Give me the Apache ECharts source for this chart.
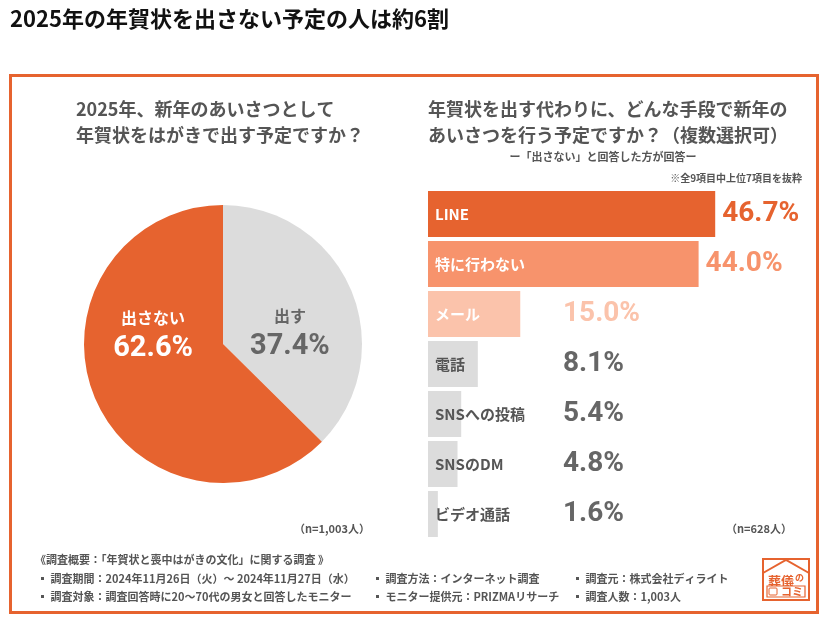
<!DOCTYPE html>
<html><head><meta charset="utf-8">
<script src="https://cdn.jsdelivr.net/npm/echarts@6/dist/echarts.min.js"></script>
<style>html,body{margin:0;padding:0;background:#fff;}#c{width:830px;height:621px;}</style>
</head><body><div id="c"></div>
<script>
const mainTitle = '2025年の年賀状を出さない予定の人は約6割';
const pieTitle = ['2025年、新年のあいさつとして', '年賀状をはがきで出す予定ですか？'];
const pieNames = ['出す', '出さない'];
const pieValues = [37.4, 62.6];
const pieN = '（n=1,003人）';
const barTitle = ['年賀状を出す代わりに、どんな手段で新年の', 'あいさつを行う予定ですか？（複数選択可）'];
const barSub = 'ー「出さない」と回答した方が回答ー';
const barNote = '※全9項目中上位7項目を抜粋';
const barCats = ['LINE', '特に行わない', 'メール', '電話', 'SNSへの投稿', 'SNSのDM', 'ビデオ通話'];
const barValues = [46.7, 44.0, 15.0, 8.1, 5.4, 4.8, 1.6];
const barN = '（n=628人）';
const notes = [
  ['《調査概要：「年賀状と喪中はがきの文化」に関する調査 》'],
  ['▪ 調査期間：2024年11月26日（火）～ 2024年11月27日（水）', '▪ 調査方法：インターネット調査', '▪ 調査元：株式会社ディライト'],
  ['▪ 調査対象：調査回答時に20～70代の男女と回答したモニター', '▪ モニター提供元：PRIZMAリサーチ', '▪ 調査人数：1,003人']
];

const ORANGE = '#E6632F', ORANGE2 = '#F7936C', ORANGE3 = '#FBC3AB', GRAY = '#DCDCDC', TXT = '#555555', VAL = '#666666';
const barColors = [ORANGE, ORANGE2, ORANGE3, GRAY, GRAY, GRAY, GRAY];
const nameColors = ['#fff', '#fff', '#fff', TXT, TXT, TXT, TXT];
const valColors = [ORANGE, ORANGE2, ORANGE3, VAL, VAL, VAL, VAL];
const JP = "'Noto Sans CJK JP', 'Noto Sans', sans-serif";
const NUM = "Roboto, 'Liberation Sans', sans-serif";

const chart = echarts.init(document.getElementById('c'), null, {renderer: 'canvas'});

const graphics = [
  {type: 'rect', shape: {x: 10.5, y: 75.5, width: 807, height: 537}, style: {fill: 'none', stroke: ORANGE, lineWidth: 3}, z: 0},
  {type: 'text', left: 10, top: 8, style: {text: mainTitle, font: "bold 22px " + JP, fill: '#111'}},
  {type: 'text', left: 76, top: 96, style: {text: pieTitle.join('\n'), font: "bold 18px " + JP, fill: TXT, lineHeight: 26}},
  {type: 'text', left: 428, top: 96, style: {text: barTitle.join('\n'), font: "bold 18px " + JP, fill: TXT, lineHeight: 26}},
  {type: 'text', x: 603, y: 157, style: {text: barSub, font: "bold 11px " + JP, fill: TXT, align: 'center', verticalAlign: 'middle'}},
  {type: 'text', x: 802, y: 178, style: {text: barNote, font: "bold 10px " + JP, fill: TXT, align: 'right', verticalAlign: 'middle'}},
  {type: 'text', x: 370, y: 529, style: {text: pieN, font: "bold 11px " + JP, fill: TXT, align: 'right', verticalAlign: 'middle'}},
  {type: 'text', x: 792, y: 529, style: {text: barN, font: "bold 11px " + JP, fill: TXT, align: 'right', verticalAlign: 'middle'}}
];
const noteX = [35, 370, 570];
const noteY = [560, 579, 597];
notes.forEach((row, r) => row.forEach((t, c) => {
  graphics.push({type: 'text', x: noteX[c] + (r === 0 ? 0 : 2), y: noteY[r], style: {text: t, font: "bold 11px " + JP, fill: TXT, verticalAlign: 'middle'}});
}));
// logo
graphics.push({
  type: 'group', x: 763, y: 559, children: [
    {type: 'rect', shape: {x: 0, y: 0, width: 46, height: 41}, style: {stroke: ORANGE, fill: '#fff', lineWidth: 2}},
    {type: 'polyline', shape: {points: [[0, 14], [23, 1], [46, 14]]}, style: {stroke: ORANGE, fill: 'none', lineWidth: 2}},
    {type: 'text', x: 5, y: 22, style: {text: '葬儀', font: "bold 13px " + JP, fill: ORANGE, verticalAlign: 'middle'}},
    {type: 'text', x: 32, y: 19, style: {text: 'の', font: "bold 9px " + JP, fill: ORANGE, verticalAlign: 'middle'}},
    {type: 'rect', shape: {x: 4, y: 27, width: 38, height: 11}, style: {stroke: ORANGE, fill: '#fff', lineWidth: 1.2}},
    {type: 'rect', shape: {x: 6, y: 29, width: 8, height: 7, r: 1}, style: {stroke: ORANGE, fill: '#fff', lineWidth: 1}},
    {type: 'text', x: 29, y: 32.5, style: {text: 'コミ', font: "bold 11px " + JP, fill: ORANGE, align: 'center', verticalAlign: 'middle'}}
  ]
});

const pieData = pieNames.map((n, i) => ({
  name: n, value: pieValues[i],
  itemStyle: {color: i === 0 ? GRAY : ORANGE},
  label: {color: i === 0 ? VAL : '#fff'}
}));

const bar1 = barValues.map((v, i) => ({
  value: v, itemStyle: {color: barColors[i]},
  label: {color: nameColors[i]}
}));
const bar2 = barValues.map((v, i) => ({
  value: v,
  label: i < 3 && v > 20 ? {position: 'right', distance: 7, color: valColors[i]}
                 : {position: [135, '50%'], align: 'left', verticalAlign: 'middle', color: valColors[i]}
}));

chart.setOption({
  animation: false,
  graphic: graphics,
  grid: {left: 428, top: 189, width: 369, height: 350, containLabel: false},
  xAxis: {type: 'value', min: 0, max: 60, show: false},
  yAxis: {type: 'category', data: barCats, inverse: true, show: false},
  series: [
    {
      type: 'pie', center: [223, 344], radius: 139, startAngle: 90, clockwise: true,
      data: pieData,
      label: {
        position: 'inside',
        formatter: p => '{n|' + p.name + '}\n{v|' + p.value.toFixed(1) + '%}',
        rich: {
          n: {fontFamily: JP, fontWeight: 'bold', fontSize: 16, lineHeight: 28},
          v: {fontFamily: NUM, fontWeight: 'bold', fontSize: 29, lineHeight: 34}
        }
      },
      labelLayout: p => p.dataIndex === 0 ? {dx: 0, dy: 17} : {dx: -3, dy: -37},
      labelLine: {show: false},
      emphasis: {disabled: true}
    },
    {
      type: 'bar', data: bar1, barWidth: 46,
      label: {show: true, position: 'insideLeft', distance: 7, formatter: '{b}', fontFamily: JP, fontWeight: 'bold', fontSize: 15},
      emphasis: {disabled: true}, z: 2
    },
    {
      type: 'bar', data: bar2, barWidth: 46, barGap: '-100%',
      itemStyle: {color: 'rgba(0,0,0,0)'},
      label: {show: true, formatter: p => p.value.toFixed(1) + '%', fontFamily: NUM, fontWeight: 'bold', fontSize: 28},
      emphasis: {disabled: true}, z: 3
    }
  ]
});
</script></body></html>
